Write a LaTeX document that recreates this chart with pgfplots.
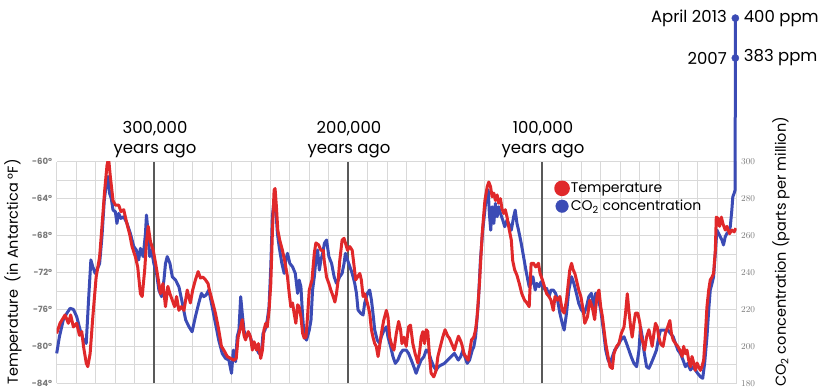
\documentclass[border=0pt]{standalone}
\usepackage{pgfplots}
\usepackage{pgfplotstable}
\pgfplotsset{compat=1.18}
\usepackage{fontspec}
\setmainfont{Poppins}

\definecolor{tempred}{HTML}{E0282A}
\definecolor{co2blue}{HTML}{3B4BB5}
\definecolor{gridgray}{HTML}{D9D9D9}
\definecolor{ticktext}{HTML}{7A7A7A}
\definecolor{eraline}{HTML}{595959}

% Vostok ice core: temperature (deg F) against thousands of years ago
\pgfplotstableread{
t T
350.0 -78.6
348.3 -77.5
345.7 -76.6
344.0 -77.5
342.8 -76.6
341.4 -77.9
339.7 -77.5
338.3 -78.8
337.1 -78.4
336.2 -80.0
334.8 -81.8
334.0 -82.2
332.8 -80.8
331.4 -76.8
329.7 -72.5
327.9 -70.3
326.7 -67.0
325.3 -63.1
324.1 -60.4
323.3 -59.6
322.4 -61.6
321.0 -64.2
319.8 -64.7
318.1 -64.7
316.9 -65.4
315.5 -65.2
314.1 -66.5
312.4 -67.9
311.2 -69.2
309.5 -70.3
308.3 -71.4
306.9 -74.3
306.0 -74.6
304.7 -71.7
303.8 -68.8
302.9 -67.0
301.7 -68.7
300.3 -69.6
299.1 -71.0
297.9 -72.5
296.6 -74.3
295.3 -73.2
294.0 -75.7
292.8 -73.5
291.7 -74.3
290.5 -75.0
289.3 -75.7
288.3 -74.6
287.1 -76.1
285.9 -75.7
284.5 -76.1
282.8 -73.9
281.2 -75.3
280.0 -73.9
278.6 -72.8
277.2 -71.9
276.0 -72.6
274.8 -72.5
273.4 -72.8
272.1 -73.2
271.4 -73.9
270.0 -75.0
268.3 -76.4
266.6 -78.2
265.2 -80.0
264.0 -80.4
262.2 -81.1
260.5 -81.3
258.8 -81.5
257.6 -81.3
256.6 -79.0
255.3 -77.9
254.5 -77.1
253.6 -78.8
252.8 -79.3
251.4 -78.4
250.2 -79.0
249.3 -80.4
248.4 -79.5
247.2 -80.4
246.2 -79.7
245.0 -81.3
244.1 -80.4
243.3 -78.2
242.4 -77.5
241.6 -77.9
240.7 -76.1
239.8 -73.2
239.0 -67.8
238.1 -63.1
237.6 -62.9
236.9 -64.9
236.2 -67.4
235.2 -68.5
233.8 -69.6
232.4 -71.0
231.2 -72.5
230.3 -74.3
229.5 -75.7
228.6 -75.3
227.8 -76.4
226.9 -77.5
226.0 -75.5
225.2 -75.7
224.3 -76.8
223.4 -78.6
222.6 -79.1
221.7 -79.0
220.9 -76.8
220.0 -73.9
218.6 -72.8
217.4 -69.9
216.6 -68.8
215.2 -69.0
214.0 -69.6
212.8 -69.6
212.3 -70.7
211.1 -72.5
209.9 -73.2
208.9 -73.9
207.7 -74.6
206.8 -75.2
206.0 -74.3
205.1 -72.8
204.3 -70.7
203.1 -68.5
202.1 -68.3
201.4 -68.8
200.3 -69.6
199.1 -69.2
197.9 -69.6
197.1 -71.0
196.1 -72.8
195.2 -72.5
194.0 -72.1
193.2 -72.8
192.3 -74.6
191.5 -74.3
190.1 -75.3
188.9 -76.4
188.0 -78.2
187.2 -79.0
186.3 -79.7
185.5 -80.0
184.6 -81.1
183.8 -80.0
182.9 -78.6
181.7 -77.2
180.3 -76.1
179.5 -76.8
178.6 -79.0
177.4 -80.0
176.4 -80.4
175.2 -78.6
174.0 -77.3
173.0 -78.2
172.3 -79.7
171.3 -79.0
170.1 -80.0
168.9 -77.9
167.9 -77.7
166.7 -79.7
165.5 -80.8
164.1 -81.8
163.1 -80.4
162.4 -79.0
161.5 -78.4
160.7 -79.7
159.8 -78.2
159.0 -78.4
158.1 -81.1
157.3 -82.9
155.9 -83.3
154.7 -82.6
153.8 -81.1
152.5 -80.0
151.3 -79.0
150.1 -78.2
148.7 -78.9
147.9 -79.1
146.7 -79.7
145.3 -80.4
144.4 -79.7
143.2 -78.9
141.9 -79.5
141.2 -80.0
140.4 -80.8
139.5 -81.1
138.2 -81.5
137.3 -80.4
136.5 -79.3
135.3 -79.0
134.4 -78.2
133.6 -76.8
132.4 -73.2
131.0 -67.8
129.6 -64.2
128.4 -62.7
127.6 -62.2
126.7 -62.7
125.9 -63.8
125.0 -63.4
124.2 -64.2
123.3 -63.6
122.5 -64.5
121.6 -64.0
120.8 -65.1
119.9 -65.6
119.1 -65.2
118.2 -66.0
117.4 -67.0
116.0 -68.5
115.3 -70.7
114.3 -71.7
113.1 -72.3
111.9 -73.2
110.6 -74.3
109.2 -75.0
108.0 -75.3
106.8 -75.7
105.8 -71.0
104.6 -71.0
103.4 -71.4
102.0 -71.0
101.2 -72.1
100.0 -72.8
99.0 -73.5
97.8 -74.3
96.6 -74.6
95.6 -75.0
94.4 -76.1
93.5 -74.6
92.2 -75.0
91.0 -74.6
89.8 -76.1
88.8 -76.4
87.6 -75.0
86.7 -73.2
85.9 -71.7
85.0 -71.0
84.2 -71.7
83.3 -72.1
82.5 -72.8
81.3 -73.9
80.2 -74.6
79.0 -76.1
78.2 -77.5
76.8 -76.8
75.6 -75.0
74.4 -75.7
73.1 -77.1
72.6 -75.9
71.7 -74.3
70.9 -73.9
70.0 -75.7
69.1 -76.8
68.3 -78.2
67.4 -79.7
66.2 -81.1
65.2 -82.2
64.0 -82.4
63.2 -80.8
61.8 -80.0
60.6 -79.7
59.4 -78.6
58.0 -77.9
57.2 -76.4
56.3 -74.3
55.5 -76.1
54.6 -77.9
53.8 -79.0
52.9 -77.5
52.1 -76.4
50.9 -76.4
49.8 -77.5
49.1 -79.0
48.1 -79.7
47.4 -80.4
46.4 -79.0
45.2 -78.2
44.4 -79.0
43.5 -80.0
42.6 -78.6
41.8 -77.5
40.9 -77.9
40.1 -79.0
39.2 -79.7
37.9 -80.0
36.7 -78.6
35.5 -77.9
34.4 -77.2
33.6 -78.6
32.7 -79.3
31.5 -79.7
30.3 -80.0
29.3 -80.4
28.1 -81.1
27.3 -80.0
26.4 -80.8
25.6 -80.4
24.7 -81.5
23.8 -82.2
23.0 -81.1
22.1 -81.8
21.3 -82.6
20.4 -81.8
19.6 -82.2
18.7 -82.6
17.9 -82.2
17.0 -81.5
16.2 -79.0
15.3 -75.7
14.4 -73.9
13.6 -72.8
12.7 -72.5
11.9 -72.1
11.0 -69.6
10.5 -66.0
9.8 -66.1
8.8 -67.0
7.9 -66.0
7.1 -66.7
5.9 -67.4
5.0 -67.0
3.7 -67.8
2.5 -67.4
1.3 -67.6
0.4 -67.2
}\temptable

% CO2 concentration (ppm) against thousands of years ago, ending with 2007 and 2013
\pgfplotstableread{
t C
350.0 196.2
348.6 205.2
346.6 214.3
344.8 217.9
343.1 220.6
341.4 220.0
339.7 216.1
337.9 208.8
336.2 203.4
334.8 201.6
333.6 225.1
332.4 246.8
331.4 243.1
330.2 239.5
329.3 241.3
327.9 244.9
326.7 259.4
325.5 279.2
324.5 287.4
323.6 292.0
322.8 282.9
321.9 280.1
321.0 273.8
319.8 272.9
319.0 266.6
318.1 272.0
316.9 269.3
315.5 270.2
313.8 266.6
312.1 261.2
310.3 254.0
309.0 252.2
307.8 246.8
306.9 253.1
305.5 248.6
304.3 261.2
303.8 271.1
302.9 261.2
302.1 248.6
301.2 252.2
300.0 244.9
298.6 239.5
297.4 230.5
296.0 226.9
294.8 235.9
294.0 244.9
293.1 248.6
291.7 244.9
290.5 237.7
288.8 235.9
287.1 232.3
285.3 223.3
283.6 214.3
281.9 210.6
280.3 207.9
278.6 216.1
276.9 223.3
275.5 228.7
274.3 226.9
273.1 227.8
271.7 230.5
270.0 221.5
268.3 212.5
266.6 203.4
264.8 196.2
263.1 193.5
261.4 192.6
260.0 185.4
259.1 198.0
257.9 191.7
257.1 205.2
256.2 208.8
255.3 226.9
254.5 217.9
253.6 208.8
252.8 205.2
251.0 207.0
249.3 201.6
247.6 199.8
245.9 196.2
244.5 198.0
243.8 207.0
242.8 208.8
241.6 214.3
240.7 221.5
239.8 243.1
239.0 270.2
238.1 279.2
237.2 273.8
236.4 261.2
235.5 254.0
234.1 244.9
232.9 239.5
232.1 246.8
231.2 250.4
230.0 244.9
228.6 243.1
227.2 239.5
226.0 228.7
225.2 235.9
224.3 232.3
223.4 216.1
222.6 205.2
221.4 203.4
220.0 208.8
219.1 214.3
218.3 230.5
217.4 237.7
216.6 246.8
215.7 252.2
214.8 241.3
214.0 246.8
213.1 250.4
212.2 255.8
211.1 257.6
209.9 248.6
208.5 244.9
207.2 237.7
206.0 234.1
205.1 235.9
204.3 237.7
203.1 239.5
202.1 244.9
201.4 250.4
200.3 246.8
199.1 243.1
197.9 239.5
196.6 234.1
195.7 228.7
194.9 219.7
193.5 217.9
192.3 217.0
191.5 223.3
190.1 228.7
188.9 230.5
188.0 225.1
187.2 217.9
186.3 208.8
185.0 203.4
183.8 201.6
182.9 205.2
181.5 208.8
180.3 210.6
179.5 205.2
178.1 199.8
176.9 194.4
175.7 190.8
174.4 192.6
173.0 196.2
171.8 198.0
170.1 198.0
168.9 196.2
167.5 192.6
166.2 189.0
165.0 185.4
163.8 189.0
162.4 192.6
161.0 194.4
159.8 198.0
158.6 197.1
157.3 192.6
155.9 189.0
154.7 187.2
153.5 189.0
152.1 189.9
150.4 190.8
148.7 192.6
147.0 194.4
145.3 196.2
143.3 192.6
142.1 194.4
140.9 198.0
139.9 194.4
138.7 190.8
137.5 192.6
136.1 198.0
135.3 199.8
134.4 205.2
133.0 223.3
131.9 246.8
130.7 263.0
129.6 273.8
128.8 282.9
127.9 284.7
127.3 272.0
126.6 262.9
125.9 275.6
125.0 266.6
124.2 277.4
123.3 270.2
122.5 275.6
121.6 272.0
120.4 268.4
119.4 264.8
118.2 268.4
117.4 266.6
116.0 263.0
114.8 270.2
114.0 273.8
113.1 266.6
112.3 263.0
110.9 255.8
109.7 248.6
108.5 241.3
107.5 235.9
106.8 232.3
105.8 234.1
104.9 237.7
103.7 230.5
102.9 234.1
101.7 232.3
100.7 235.0
99.5 232.3
98.6 230.5
97.8 231.4
96.6 226.9
95.6 230.5
94.4 230.5
93.2 228.7
92.2 225.1
91.0 217.9
89.8 212.5
88.8 208.8
87.6 217.9
86.4 230.5
85.0 237.7
83.8 234.1
82.5 228.7
81.3 223.3
79.9 219.7
78.5 217.9
77.3 221.5
76.1 226.9
74.8 228.7
73.4 221.5
72.6 228.7
71.4 226.9
70.0 219.7
68.6 208.8
67.4 198.0
66.2 192.6
65.2 190.8
64.0 194.4
62.8 198.0
61.5 199.8
59.7 203.4
58.0 205.2
56.7 201.6
55.5 198.0
54.3 194.4
52.9 190.8
51.5 189.0
50.3 198.0
49.5 210.6
48.6 205.2
47.8 198.0
46.4 189.0
45.2 188.1
44.0 190.8
42.6 194.4
41.3 198.0
40.1 205.2
39.2 208.8
37.9 208.8
36.7 208.8
35.5 208.8
34.1 207.0
32.7 205.2
31.5 201.6
30.3 198.0
29.0 196.2
27.6 192.6
26.4 189.0
25.2 190.8
23.8 187.2
22.5 189.0
21.3 187.2
20.1 185.4
18.7 183.6
17.5 182.7
16.5 190.8
15.3 205.2
14.4 219.7
13.6 230.5
12.7 234.1
11.9 237.7
11.0 250.4
10.2 263.0
9.3 261.2
8.5 259.4
7.6 257.6
6.8 254.9
5.9 259.4
5.0 261.2
4.2 262.1
3.3 264.8
2.5 273.8
2.0 281.0
1.3 282.9
0.8 284.7
0.7 383.0
0.7 400.0
}\cotable

\pgfplotsset{
  chartbox/.style={
    at={(56.7pt,4.7pt)}, anchor=south west,
    scale only axis, width=680pt, height=221.6pt,
    x dir=reverse, xmin=0, xmax=350,
  },
  ticklabelfont/.style={font=\bfseries\fontsize{8.6}{9}\selectfont, text=ticktext},
}

\begin{document}
\begin{tikzpicture}[x=1pt,y=1pt]
\path[use as bounding box] (0,0) rectangle (825,388);

% grid and temperature scale
\begin{axis}[
  chartbox,
  ymin=-84, ymax=-60,
  xtick={0,10,...,90,110,120,...,190,210,220,...,290,310,320,...,350}, xticklabels={},
  ytick={-84,-80,...,-60},
  minor ytick={-82,-78,...,-62},
  yticklabels={-84\textdegree,-80\textdegree,-76\textdegree,-72\textdegree,-68\textdegree,-64\textdegree,-60\textdegree},
  yticklabel style={ticklabelfont, xshift=-1pt},
  grid=both,
  major grid style={gridgray, line width=0.9pt},
  minor grid style={gridgray, line width=0.9pt},
  major tick length=0pt, minor tick length=0pt,
  axis line style={draw=none},
  extra x ticks={100,200,300},
  extra x tick labels={},
  extra x tick style={major grid style={eraline, line width=2pt}},
]
\end{axis}

% CO2 concentration, right-hand scale; values above 300 ppm are compressed
\begin{axis}[
  chartbox,
  ymin=180, ymax=300,
  y coord trafo/.code={\pgfmathparse{#1>383 ? 356.15+(#1-383)*1.27 : (#1>300 ? 300+(#1-300)*0.6765 : #1)}},
  y coord inv trafo/.code={\pgfmathparse{#1>356.15 ? 383+(#1-356.15)/1.27 : (#1>300 ? 300+(#1-300)/0.6765 : #1)}},
  axis x line=none, axis y line*=right,
  axis line style={draw=none},
  ytick={180,200,...,300},
  yticklabel style={ticklabelfont, xshift=1pt},
  major tick length=0pt,
  clip=false,
]
\addplot[co2blue, line width=3pt, line join=round] table[x=t, y=C] {\cotable};
\addplot[only marks, mark=*, mark size=3.6pt, co2blue] coordinates {(0.7,383) (0.7,400)};
\node[anchor=east, font=\fontsize{16.5}{18}\selectfont, xshift=-5pt] at (axis cs:0.7,400) {April 2013};
\node[anchor=west, font=\fontsize{16.5}{18}\selectfont, xshift=5pt] at (axis cs:0.7,400) {400 ppm};
\node[anchor=east, font=\fontsize{16.5}{18}\selectfont, xshift=-5pt] at (axis cs:0.7,383) {2007};
\node[anchor=west, font=\fontsize{16.5}{18}\selectfont, xshift=5pt] at (axis cs:0.7,383) {383 ppm};
\end{axis}

% temperature series on top
\begin{axis}[
  chartbox,
  ymin=-84, ymax=-60,
  hide axis,
  legend style={at={(0.727,0.925)}, anchor=north west, draw=none, fill=none,
    font=\fontsize{14}{16}\selectfont, row sep=3pt,
    nodes={inner sep=1pt}},
  legend cell align=left,
  legend image code/.code={\fill[#1] (0pt,0pt) circle (6.3pt);},
]
\addplot[tempred, line width=3pt, line join=round] table[x=t, y=T] {\temptable};
\addlegendentry{Temperature}
\addlegendimage{co2blue}
\addlegendentry{CO\textsubscript{2} concentration}
\end{axis}

% era labels
\foreach \xx/\lab in {155/300{,}000, 349/200{,}000, 543/100{,}000}{
  \node[align=center, font=\fontsize{16.5}{20}\selectfont] at (\xx,248) {\lab\\years ago};
}

% axis titles
\node[rotate=90, font=\fontsize{14.5}{16}\selectfont] at (13,116) {Temperature\ \ (in Antarctica \textdegree F)};
\node[rotate=90, font=\fontsize{14.5}{16}\selectfont] at (781,136) {CO\textsubscript{2} concentration (parts per million)};
\end{tikzpicture}
\end{document}
